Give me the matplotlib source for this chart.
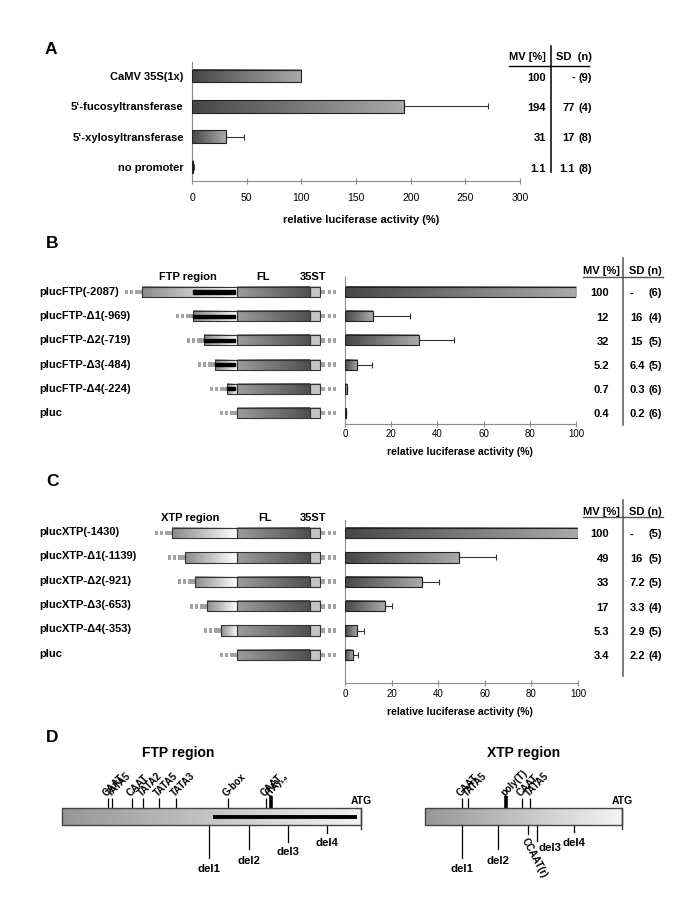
import numpy as np
import matplotlib
matplotlib.use("Agg")
import matplotlib.pyplot as plt
from matplotlib.patches import Rectangle
from matplotlib.colors import LinearSegmentedColormap
from matplotlib.transforms import blended_transform_factory as blend

plt.rcParams['font.family'] = ['Liberation Sans', 'DejaVu Sans']

W, H = 685, 913

# ---- panel A data ----
a_labels = ['CaMV 35S(1x)', '5‘-fucosyltransferase', '5‘-xylosyltransferase', 'no promoter']
a_mv = [100, 194, 31, 1.1]
a_sd = [np.nan, 77, 17, 1.1]
a_n = [9, 4, 8, 8]

# ---- panel B data ----
b_labels = ['plucFTP(-2087)', 'plucFTP-Δ1(-969)', 'plucFTP-Δ2(-719)',
            'plucFTP-Δ3(-484)', 'plucFTP-Δ4(-224)', 'pluc']
b_start = [-2087, -969, -719, -484, -224, 0]
b_mv = [100, 12, 32, 5.2, 0.7, 0.4]
b_sd = [np.nan, 16, 15, 6.4, 0.3, 0.2]
b_n = [6, 4, 5, 5, 6, 6]
ftp_black = [-969, -45]

# ---- panel C data ----
c_labels = ['plucXTP(-1430)', 'plucXTP-Δ1(-1139)', 'plucXTP-Δ2(-921)',
            'plucXTP-Δ3(-653)', 'plucXTP-Δ4(-353)', 'pluc']
c_start = [-1430, -1139, -921, -653, -353, 0]
c_mv = [100, 49, 33, 17, 5.3, 3.4]
c_sd = [np.nan, 16, 7.2, 3.3, 2.9, 2.2]
c_n = [5, 5, 5, 4, 5, 4]

fl_len = 1600
t35_len = 220

# ---- panel D data ----
ftp_len = 2087
ftp_sites = ['CAAT', 'TATA5', 'CAAT', 'TATA2', 'TATA5', 'TATA3', 'G-box', 'CAAT', '(TA)₁₄']
ftp_site_pos = [-1766, -1738, -1598, -1522, -1410, -1291, -928, -663, -628]
ftp_dels = ['del1', 'del2', 'del3', 'del4']
ftp_del_pos = [-1060, -780, -510, -240]
ftp_bar_line = [-1030, -30]

xtp_len = 1430
xtp_sites = ['CAAT', 'TATA5', 'poly(T)', 'CAAT', 'TATA5']
xtp_site_pos = [-1162, -1118, -842, -726, -668]
xtp_dels = ['del1', 'del2', 'del3', 'del4']
xtp_del_pos = [-1160, -900, -620, -350]
xtp_rev_site = ['CCAAT(r)']
xtp_rev_pos = [-682]
thick_sites = ['(TA)₁₄', 'poly(T)']

fig = plt.figure(figsize=(W / 100, H / 100), dpi=100)
bg = fig.add_axes([0, 0, 1, 1])
bg.set_xlim(0, W)
bg.set_ylim(H, 0)
bg.axis('off')


def px_axes(x0, y0, x1, y1):
    ax = fig.add_axes([x0 / W, 1 - y1 / H, (x1 - x0) / W, (y1 - y0) / H])
    ax.patch.set_alpha(0)
    return ax


ramp = np.linspace(0, 1, 256).reshape(1, -1)


def grad(ax, x0, x1, y0, y1, c0, c1, z=2):
    cmap = LinearSegmentedColormap.from_list('g', [c0, c1])
    ax.imshow(ramp, cmap=cmap, aspect='auto', extent=[x0, x1, y0, y1],
              zorder=z, interpolation='bilinear')


def box(ax, x0, x1, yc, h, c0, c1, ec='#333333', lw=0.8):
    grad(ax, x0, x1, yc - h / 2, yc + h / 2, c0, c1)
    ax.add_patch(Rectangle((x0, yc - h / 2), x1 - x0, h, fill=False, ec=ec, lw=lw, zorder=3))


def bar_panel(ax, mv, sd, xmax, step, ylim, fs, pad):
    mv = np.asarray(mv, float)
    sd = np.asarray(sd, float)
    y = np.arange(len(mv))
    bars = ax.barh(y, mv, height=0.42, color='none', edgecolor='#222222', linewidth=0.8, zorder=3)
    for b in bars:
        grad(ax, b.get_x(), b.get_x() + b.get_width(), b.get_y(), b.get_y() + b.get_height(),
             '#474747', '#aaaaaa')
    ok = ~np.isnan(sd)
    ax.errorbar(mv[ok], y[ok], xerr=[np.zeros(ok.sum()), sd[ok]], fmt='none', ecolor='#333333',
                elinewidth=0.8, capsize=2.2, capthick=0.8, zorder=2.5)
    ax.set_xlim(0, xmax)
    ax.set_ylim(*ylim)
    ax.set_xticks(np.arange(0, xmax + 1, step))
    for s in ['top', 'right']:
        ax.spines[s].set_visible(False)
    for s in ['left', 'bottom']:
        ax.spines[s].set_color('#8c8c8c')
        ax.spines[s].set_linewidth(0.8)
    ax.tick_params(axis='x', direction='inout', length=4, color='#8c8c8c', labelsize=fs, pad=pad)
    ax.tick_params(axis='y', length=0)
    ax.set_yticks([])
    return y


def table(ax, y, mv, sd, n, x_mv, x_sd, x_n, sd_ha):
    tr = blend(bg.transData, ax.transData)
    kw = dict(transform=tr, va='center', fontsize=8, fontweight='bold')
    for yi, m, s, k in zip(y, mv, sd, n):
        ax.text(x_mv, yi + 0.06, f'{m:g}', ha='right', **kw)
        ax.text(x_sd, yi + 0.06, '-' if np.isnan(s) else f'{s:g}', ha=sd_ha, **kw)
        ax.text(x_n, yi + 0.06, f'({k})', ha='right', **kw)


sc = 0.0455  # px per bp in construct drawings


def construct(ax, y, start, black=None):
    px = 1 / sc
    h, dh = 0.42, 0.19
    end = fl_len + t35_len
    for a, b in [(-17, -14), (-12, -9), (-7, 0)]:
        ax.add_patch(Rectangle((start + a * px, y - dh / 2), (b - a) * px, dh, color='#a3a3a3', lw=0))
    for a, b in [(0, 5), (8, 11), (13, 16)]:
        ax.add_patch(Rectangle((end + a * px, y - dh / 2), (b - a) * px, dh, color='#a3a3a3', lw=0))
    if start < 0:
        box(ax, start, 0, y, h, '#8a8a8a', '#ffffff')
        if black is not None:
            b0 = max(start, black[0])
            ax.add_patch(Rectangle((b0, y - 0.065), black[1] - b0, 0.13, color='black', zorder=4))
    box(ax, 0, fl_len, y, h, '#9c9c9c', '#505050')
    box(ax, fl_len, end, y, h, '#c4c4c4', '#c4c4c4')


bold = dict(fontweight='bold')

# ================= A =================
bg.text(45, 50, 'A', fontsize=12.5, va='center', **bold)
axA = px_axes(192, 62, 520, 181)
yA = bar_panel(axA, a_mv, a_sd, 300, 50, ((181 - 76) / 30.3, (62 - 76) / 30.3), 7.5, 6.5)
axA.set_yticks(yA, a_labels, fontsize=8, fontweight='bold')
axA.tick_params(axis='y', pad=6)
bg.text(361, 220, 'relative luciferase activity (%)', ha='center', va='center', fontsize=8, **bold)
table(axA, yA, a_mv, a_sd, a_n, 546, 575, 592, 'right')
bg.text(546, 57, 'MV [%]', ha='right', va='center', fontsize=8, **bold)
bg.text(556, 57, 'SD  (n)', ha='left', va='center', fontsize=8, **bold)
bg.plot([551, 551], [46, 172], color='black', lw=1.1)
bg.plot([509, 589], [66, 66], color='black', lw=1.0)

# ================= B =================
bg.text(46, 244, 'B', fontsize=12.5, va='center', **bold)
ylimB = ((424 - 292) / 24.2, (277 - 292) / 24.2)
axB = px_axes(345, 277, 576, 424)
yB = bar_panel(axB, b_mv, b_sd, 100, 20, ylimB, 7, 1.5)
cB = px_axes(95, 277, 345, 424)
cB.set_xlim((95 - 237) / sc, (345 - 237) / sc)
cB.set_ylim(*ylimB)
cB.axis('off')
for yi, st in zip(yB, b_start):
    construct(cB, yi, st, ftp_black)
trB = blend(bg.transData, axB.transData)
for yi, lab in zip(yB, b_labels):
    axB.text(39, yi, lab, transform=trB, ha='left', va='center', fontsize=8, **bold)
bg.text(188, 277, 'FTP region', ha='center', va='center', fontsize=8, **bold)
bg.text(263, 277, 'FL', ha='center', va='center', fontsize=8, **bold)
bg.text(313, 277, '35ST', ha='center', va='center', fontsize=8, **bold)
bg.text(460, 452, 'relative luciferase activity (%)', ha='center', va='center', fontsize=7.5, **bold)
table(axB, yB, b_mv, b_sd, b_n, 609, 630, 662, 'left')
bg.text(620, 271, 'MV [%]', ha='right', va='center', fontsize=8, **bold)
bg.text(629, 271, 'SD (n)', ha='left', va='center', fontsize=8, **bold)
bg.plot([623, 623], [258, 425], color='#555555', lw=1.1)
bg.plot([583, 663], [277, 277], color='#555555', lw=1.0)

# ================= C =================
bg.text(46, 482, 'C', fontsize=12.5, va='center', **bold)
ylimC = ((683 - 533) / 24.4, (520 - 533) / 24.4)
axC = px_axes(345, 520, 578, 683)
yC = bar_panel(axC, c_mv, c_sd, 100, 20, ylimC, 7, 2)
cC = px_axes(95, 520, 345, 683)
cC.set_xlim((95 - 237) / sc, (345 - 237) / sc)
cC.set_ylim(*ylimC)
cC.axis('off')
for yi, st in zip(yC, c_start):
    construct(cC, yi, st)
trC = blend(bg.transData, axC.transData)
for yi, lab in zip(yC, c_labels):
    axC.text(39, yi - 0.05, lab, transform=trC, ha='left', va='center', fontsize=8, **bold)
bg.text(190, 518, 'XTP region', ha='center', va='center', fontsize=8, **bold)
bg.text(265, 518, 'FL', ha='center', va='center', fontsize=8, **bold)
bg.text(313, 518, '35ST', ha='center', va='center', fontsize=8, **bold)
bg.text(460, 712, 'relative luciferase activity (%)', ha='center', va='center', fontsize=7.5, **bold)
table(axC, yC, c_mv, c_sd, c_n, 609, 630, 662, 'left')
bg.text(620, 512, 'MV [%]', ha='right', va='center', fontsize=8, **bold)
bg.text(629, 512, 'SD (n)', ha='left', va='center', fontsize=8, **bold)
bg.plot([623, 623], [500, 676], color='#555555', lw=1.1)
bg.plot([583, 663], [517, 517], color='#555555', lw=1.0)

# ================= D =================
bg.text(46, 738, 'D', fontsize=12.5, va='center', **bold)
bg.text(178, 753, 'FTP region', ha='center', va='center', fontsize=10, **bold)
bg.text(524, 753, 'XTP region', ha='center', va='center', fontsize=10, **bold)


def region_map(ax, length, scale, sites, site_pos, dels, del_pos, del_end, del_lab_y, del_ha):
    px = 1 / scale
    box(ax, -length, 0, 816.5, 17, '#969696', '#f4f4f4', ec='#444444', lw=1.0)
    ax.plot([0, 0], [808, 829], color='#333333', lw=1.0)
    ax.text(0, 801, 'ATG', ha='center', va='center', fontsize=7.5, **bold)
    for name, p in zip(sites, site_pos):
        thick = name in thick_sites
        ax.plot([p, p], [808, 796 if thick else 798], color='black', lw=2.6 if thick else 0.9,
                solid_capstyle='butt')
        ax.text(p - 1.5 * px, 796.5, name, rotation=45, rotation_mode='anchor', ha='left',
                va='baseline', fontsize=7, **bold)
    for name, p, e, ly, ha in zip(dels, del_pos, del_end, del_lab_y, del_ha):
        ax.plot([p, p], [825, e], color='black', lw=0.9)
        ax.text(p + (2 * px if ha == 'left' else 0), ly, name, ha=ha, va='center', fontsize=8.2, **bold)


sD = 299 / 2087
axD1 = px_axes(40, 785, 400, 885)
axD1.set_xlim((40 - 361) / sD, (400 - 361) / sD)
axD1.set_ylim(885, 785)
axD1.axis('off')
region_map(axD1, ftp_len, sD, ftp_sites, ftp_site_pos, ftp_dels, ftp_del_pos,
           [858, 849, 842, 833], [869, 861, 852, 843], ['center'] * 4)
axD1.plot(ftp_bar_line, [817, 817], color='black', lw=2.8, solid_capstyle='butt', zorder=5)

sX = 197 / 1430
axD2 = px_axes(405, 785, 665, 885)
axD2.set_xlim((405 - 622) / sX, (665 - 622) / sX)
axD2.set_ylim(885, 785)
axD2.axis('off')
region_map(axD2, xtp_len, sX, xtp_sites, xtp_site_pos, xtp_dels, xtp_del_pos,
           [858, 849, 841, 832], [869, 861, 848, 843], ['center', 'center', 'left', 'center'])
for name, p in zip(xtp_rev_site, xtp_rev_pos):
    axD2.plot([p, p], [825, 834], color='black', lw=0.9)
    axD2.text(p, 836, name, rotation=-62, rotation_mode='anchor', ha='left', va='top',
              fontsize=7, **bold)

fig.savefig('out.png', dpi=100)
